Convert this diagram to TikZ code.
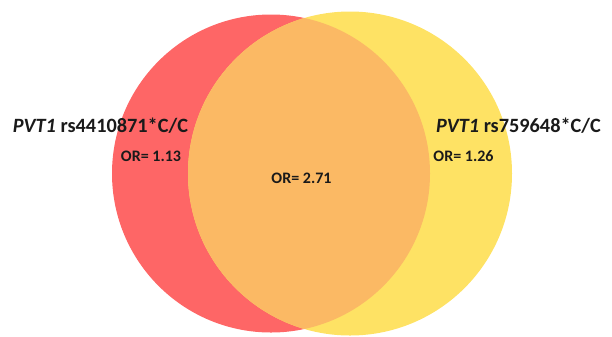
\documentclass[tikz,border=0pt]{standalone}
\usepackage{fontspec}
\setmainfont{Carlito}
\usetikzlibrary{calc}

\begin{document}
\begin{tikzpicture}[x=1bp,y=-1bp]
\definecolor{mycolorFE6666}{RGB}{254,102,102}
\definecolor{mycolorFEE264}{RGB}{254,226,100}
\definecolor{mycolorFBB964}{RGB}{251,185,100}
\definecolor{mycolor1A1A1A}{RGB}{26,26,26}
\tikzset{
  vlabel/.style={text=mycolor1A1A1A,inner sep=0.0,font=\bfseries\fontsize{20.3bp}{24bp}\selectfont},
  orlabel/.style={text=mycolor1A1A1A,inner sep=0.0,font=\bfseries\fontsize{16bp}{19bp}\selectfont}
}
\useasboundingbox (0,0) rectangle (612,336);
\begin{scope}
% circles
\path [fill=mycolorFE6666] (271,173.5) circle [radius=159];
\path [fill=mycolorFEE264] (350,173.5) circle [radius=162];
\begin{scope}
\clip (271,173.5) circle [radius=159];
\path [fill=mycolorFBB964] (350,173.5) circle [radius=162];
\end{scope}
\end{scope}
\begin{scope}
% \fontspec{Carlito}
\node (snpA) at (100.5,126) [vlabel] {\textit{PVT1} rs4410871*C/C};
\node (snpB) at (518.5,126) [vlabel] {\textit{PVT1} rs759648*C/C};
\node (orA) at (151,156) [orlabel] {OR= 1.13};
\node (orB) at (463.5,156) [orlabel] {OR= 1.26};
\node (orAB) at (301.5,178) [orlabel] {OR= 2.71};
\end{scope}
\end{tikzpicture}
\end{document}
